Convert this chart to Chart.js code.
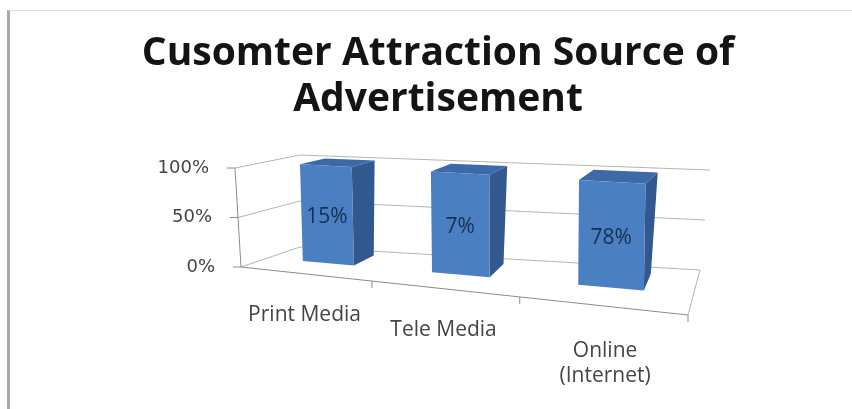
<!DOCTYPE html>
<html>
<head>
<meta charset="utf-8">
<script src="https://cdn.jsdelivr.net/npm/chart.js@4.4.1/dist/chart.umd.min.js"></script>
<style>
  body { margin: 0; background: #fff; }
  .frame {
    position: absolute; left: 7px; top: 10px; width: 845px; height: 399px;
    border-left: 3px solid #a9a9a9; border-top: 1px solid #dedede;
  }
  #chart { position: absolute; left: 0; top: 0; }
</style>
</head>
<body>
<div class="frame"></div>
<canvas id="chart" width="852" height="409"></canvas>
<script>
// Data
const categories = ['Print Media', 'Tele Media', ['Online', '(Internet)']];
const shares = [15, 7, 78];          // % of customers attracted by each source
const yTicks = [0, 50, 100];

// one series in a 100% stacked column: every column is its share of its own stack
const series = [shares];
const stackTotals = categories.map((_, i) => series.reduce((sum, s) => sum + s[i], 0));
const columnHeights = shares.map((v, i) => v / stackTotals[i] * 100);

// 3D view: screen corners of the plot box (front/back, left/right, bottom/top)
const box = {
    front: { lb: [241, 267], rb: [688, 315], lt: [235, 168], rt: [684, 200] },
    back:  { lb: [300, 247], rb: [700, 270], lt: [300, 155], rt: [710, 170] }
};
const warp = 0.207;           // foreshortening along the category axis
const barDepth = [0.45, 0.85]; // columns sit in this slice of the floor depth

const lerp = (p, q, t) => [p[0] + (q[0] - p[0]) * t, p[1] + (q[1] - p[1]) * t];

// u: across categories, v: up the value axis, d: into the page (all 0..1)
function project(u, v, d) {
    const a = u / (1 + warp - warp * u);
    const f = lerp(lerp(box.front.lb, box.front.rb, a), lerp(box.front.lt, box.front.rt, a), v);
    const b = lerp(lerp(box.back.lb, box.back.rb, a), lerp(box.back.lt, box.back.rt, a), v);
    return lerp(f, b, d);
}

function line(ctx, p, q, color) {
    ctx.beginPath();
    ctx.moveTo(p[0], p[1]);
    ctx.lineTo(q[0], q[1]);
    ctx.strokeStyle = color;
    ctx.lineWidth = 1;
    ctx.stroke();
}

function face(ctx, pts, color) {
    ctx.beginPath();
    ctx.moveTo(pts[0][0], pts[0][1]);
    pts.slice(1).forEach(p => ctx.lineTo(p[0], p[1]));
    ctx.closePath();
    ctx.fillStyle = color;
    ctx.fill();
}

const box3d = {
    id: 'box3d',
    beforeDatasetsDraw(chart) {
        const ctx = chart.ctx;
        const area = chart.chartArea;
        const xs = chart.scales.x, ys = chart.scales.y;
        const uOf = px => (px - area.left) / (area.right - area.left);
        const vOf = py => (area.bottom - py) / (area.bottom - area.top);
        const grid = '#b4b4b4', axis = '#8c8c8c';
        ctx.save();

        // walls and gridlines
        yTicks.forEach(t => {
            const v = vOf(ys.getPixelForValue(t));
            line(ctx, project(0, v, 1), project(1, v, 1), grid);
            line(ctx, project(0, v, 0), project(0, v, 1), grid);
            const p = project(0, v, 0);
            line(ctx, [p[0] - 8, p[1]], p, axis);
            ctx.font = '18px "DejaVu Sans"';
            ctx.fillStyle = '#454545';
            ctx.textAlign = 'right';
            ctx.textBaseline = 'middle';
            ctx.fillText(t + '%', p[0] - 26, p[1]);
        });
        line(ctx, project(0, 0, 0), project(0, 1, 0), axis);
        line(ctx, project(0, 0, 0), project(1, 0, 0), axis);
        line(ctx, project(1, 0, 0), project(1, 0, 1), grid);

        // category separators and labels along the front edge
        categories.forEach((label, i) => {
            const u = uOf(xs.getPixelForValue(i + 0.5));
            const p = project(u, 0, 0);
            line(ctx, p, [p[0], p[1] + 7], axis);
            const c = project(uOf(xs.getPixelForValue(i)), 0, 0);
            const multi = Array.isArray(label);
            ctx.font = '21px "Open Sans"';
            ctx.fillStyle = '#454545';
            ctx.textAlign = 'center';
            ctx.textBaseline = 'top';
            [].concat(label).forEach((txt, k) =>
                ctx.fillText(txt, c[0] + (multi ? 4 : 0), c[1] + (multi ? 35 : 31) + k * 25));
        });
        ctx.restore();
    },
    afterDatasetsDraw(chart) {
        const ctx = chart.ctx;
        const area = chart.chartArea;
        const uOf = px => (px - area.left) / (area.right - area.left);
        const vOf = py => (area.bottom - py) / (area.bottom - area.top);
        const [d0, d1] = barDepth;
        ctx.save();
        chart.getDatasetMeta(0).data.forEach((bar, i) => {
            const { x, y, base, width } = bar.getProps(['x', 'y', 'base', 'width'], true);
            const u0 = uOf(x - width / 2), u1 = uOf(x + width / 2);
            const v0 = vOf(base), v1 = vOf(y);
            // right side, top, then front
            face(ctx, [project(u1, v0, d0), project(u1, v0, d1), project(u1, v1, d1), project(u1, v1, d0)], '#32598f');
            face(ctx, [project(u0, v1, d0), project(u1, v1, d0), project(u1, v1, d1), project(u0, v1, d1)], '#3c69a8');
            face(ctx, [project(u0, v0, d0), project(u1, v0, d0), project(u1, v1, d0), project(u0, v1, d0)], '#4a7fc2');

            const c = project((u0 + u1) / 2, v0 + (v1 - v0) * 0.47, d0);
            ctx.font = '21px "Open Sans"';
            ctx.fillStyle = '#18304f';
            ctx.textAlign = 'center';
            ctx.textBaseline = 'middle';
            ctx.fillText(shares[i] + '%', c[0], c[1]);
        });
        ctx.restore();
    }
};

new Chart(document.getElementById('chart'), {
    type: 'bar',
    data: {
        labels: categories,
        datasets: [{
            data: columnHeights,
            backgroundColor: 'rgba(0,0,0,0)',
            barPercentage: 0.41,
            categoryPercentage: 1
        }]
    },
    options: {
        responsive: false,
        animation: false,
        events: [],
        layout: { padding: { left: 24, top: 10, right: 0, bottom: 140 } },
        scales: {
            x: { display: false },
            y: { display: false, min: 0, max: 100, ticks: { stepSize: 50 } }
        },
        plugins: {
            legend: { display: false },
            tooltip: { enabled: false },
            title: {
                display: true,
                text: ['Cusomter Attraction Source of', 'Advertisement'],
                color: '#141414',
                font: { family: 'Open Sans', size: 39, weight: 'bold', lineHeight: 1.2 },
                padding: { top: 20, bottom: 10 }
            }
        }
    },
    plugins: [box3d]
});
</script>
</body>
</html>
